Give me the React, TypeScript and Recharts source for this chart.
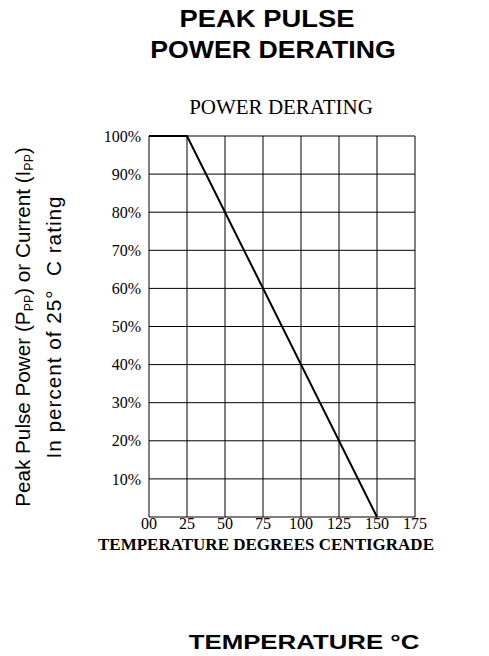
import React from 'react';
import { LineChart, Line, XAxis, YAxis, CartesianGrid, Label } from 'recharts';

const temperatures = [0, 25, 150];
const ratingPercent = [100, 100, 0];
const xTicks = [0, 25, 50, 75, 100, 125, 150, 175];
const yTicks = [0, 10, 20, 30, 40, 50, 60, 70, 80, 90, 100];

const data = temperatures.map((t, i) => ({ t, v: ratingPercent[i] }));

const serif = '"Liberation Serif", "DejaVu Serif", serif';
const sans = '"Liberation Sans", Arial, sans-serif';

const subStyle: React.CSSProperties = { fontSize: '0.6em', position: 'relative', top: '0.25em', verticalAlign: 'baseline', lineHeight: 0 };

export default function App() {
  return (
    <div style={{ position: 'absolute', left: 0, top: 0, width: 489, height: 656, background: '#fff' }}>
      <div style={{ position: 'absolute', left: 267, top: 4, transform: 'translateX(-50%) scaleX(1.19)', fontFamily: sans, fontWeight: 'bold', fontSize: 23, lineHeight: '31px', whiteSpace: 'nowrap', color: '#000' }}>
        PEAK PULSE
      </div>
      <div style={{ position: 'absolute', left: 273, top: 35, transform: 'translateX(-50%) scaleX(1.16)', fontFamily: sans, fontWeight: 'bold', fontSize: 23, lineHeight: '31px', whiteSpace: 'nowrap', color: '#000' }}>
        POWER DERATING
      </div>
      <div style={{ position: 'absolute', left: 38, top: 327, transform: 'translate(-50%, -50%) rotate(-90deg)', fontFamily: sans, fontSize: 20.7, lineHeight: '31px', textAlign: 'center', whiteSpace: 'nowrap', color: '#000' }}>
        <div>Peak Pulse Power (P<span style={subStyle}>PP</span>) or Current (I<span style={subStyle}>PP</span>)</div>
        <div style={{ letterSpacing: 1 }}>In percent of 25°&nbsp; C rating</div>
      </div>
      <div style={{ position: 'absolute', left: 281, top: 96, transform: 'translateX(-50%) scaleX(1.05)', fontFamily: serif, fontSize: 20, lineHeight: '22px', whiteSpace: 'nowrap', color: '#000' }}>
        POWER DERATING
      </div>
      <div style={{ position: 'absolute', left: 304, top: 632, transform: 'translateX(-50%) scaleX(1.29)', fontFamily: sans, fontWeight: 'bold', fontSize: 20, lineHeight: '20px', whiteSpace: 'nowrap', color: '#000' }}>
        TEMPERATURE °C
      </div>
      <LineChart width={489} height={656} data={data} margin={{ top: 136, left: 89, right: 74, bottom: 109 }}>
        <CartesianGrid stroke="#000" strokeWidth={1} />
        <XAxis
          dataKey="t"
          type="number"
          domain={[0, 175]}
          ticks={xTicks}
          interval={0}
          axisLine={false}
          tickLine={false}
          tickSize={0}
          height={30}
          tickMargin={1}
          tickFormatter={(v: number) => (v === 0 ? '00' : String(v))}
          tick={{ fill: '#000', fontFamily: serif, fontSize: 16 }}
        >
          <Label value="TEMPERATURE DEGREES CENTIGRADE" position="insideBottom" offset={-3} dx={-16} style={{ fill: '#000', fontFamily: serif, fontWeight: 'bold', fontSize: 17 }} />
        </XAxis>
        <YAxis
          type="number"
          domain={[0, 100]}
          ticks={yTicks}
          interval={0}
          axisLine={false}
          tickLine={false}
          width={60}
          tickMargin={2}
          tickFormatter={(v: number) => (v === 0 ? '' : `${v}%`)}
          tick={{ fill: '#000', fontFamily: serif, fontSize: 16 }}
        />
        <Line type="linear" dataKey="v" stroke="#000" strokeWidth={2} dot={false} activeDot={false} isAnimationActive={false} />
      </LineChart>
    </div>
  );
}
